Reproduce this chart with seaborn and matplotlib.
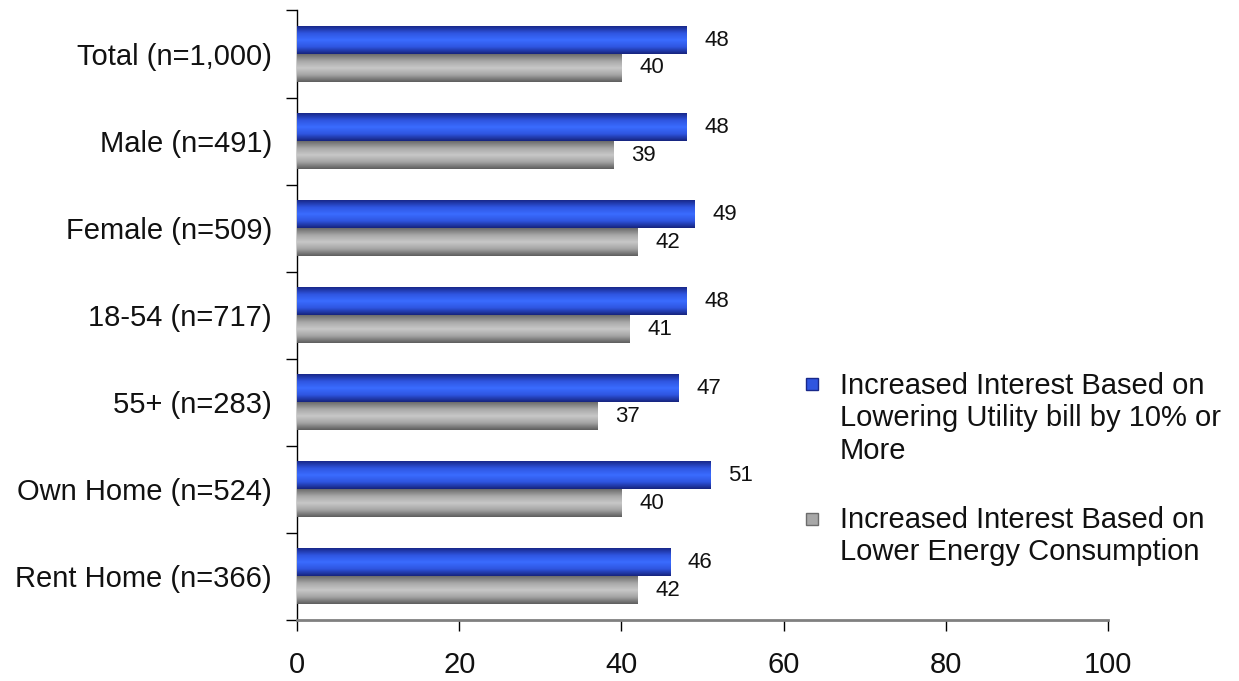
import numpy as np
import pandas as pd
import matplotlib
matplotlib.use("Agg")
import matplotlib.pyplot as plt
import seaborn as sns
from matplotlib.colors import LinearSegmentedColormap
from matplotlib.patches import Patch, Rectangle
from matplotlib.legend_handler import HandlerPatch

groups = ["Total (n=1,000)", "Male (n=491)", "Female (n=509)", "18-54 (n=717)",
          "55+ (n=283)", "Own Home (n=524)", "Rent Home (n=366)"]
utility_bill = [48, 48, 49, 48, 47, 51, 46]
energy_use = [40, 39, 42, 41, 37, 40, 42]
series = ["Increased Interest Based on\nLowering Utility bill by 10% or\nMore",
          "Increased Interest Based on\nLower Energy Consumption"]

df = pd.DataFrame({
    "group": groups * 2,
    "value": utility_bill + energy_use,
    "series": [series[0]] * len(groups) + [series[1]] * len(groups),
})

sns.set_style("white")
plt.rcParams["font.family"] = ["Liberation Sans", "DejaVu Sans"]

fig = plt.figure(figsize=(12.39, 6.81), dpi=100)
ax = fig.add_axes([0.2397, 0.0896, 0.6546, 0.8950])

blue_c = "#2f5cf0"
gray_c = "#a8a8a8"
sns.barplot(data=df, x="value", y="group", hue="series", orient="h",
            palette=[blue_c, gray_c], width=0.64, ax=ax, legend=False)

cmaps = [
    LinearSegmentedColormap.from_list("b", ["#18288a", "#2f55e0", "#3a6cff", "#2f55e0", "#16247e"]),
    LinearSegmentedColormap.from_list("g", ["#6c6c6c", "#a8a8a8", "#c8c8c8", "#a4a4a4", "#5e5e5e"]),
]
grad = np.linspace(0, 1, 64).reshape(-1, 1)
for cont, cm in zip(ax.containers, cmaps):
    for bar in cont:
        x0, y0 = bar.get_x(), bar.get_y()
        w, h = bar.get_width(), bar.get_height()
        ax.imshow(grad, cmap=cm, extent=[x0, x0 + w, y0 + h, y0],
                  aspect="auto", zorder=3, interpolation="bilinear")
        ax.text(x0 + w + 2.2, y0 + h / 2, f"{w:.0f}", va="center", ha="left",
                fontsize=16, color="#111111")

ax.set_xlim(0, 100)
ax.set_ylim(len(groups) - 0.5, -0.5)
ax.set_xticks(range(0, 101, 20))
ax.set_yticks(range(len(groups)))
ax.set_yticklabels(groups)
ax.set_yticks(np.arange(-0.5, len(groups), 1), minor=True)
ax.set_xlabel("")
ax.set_ylabel("")

sns.despine(ax=ax, top=True, right=True)
ax.spines["left"].set_color("black")
ax.spines["left"].set_linewidth(1)
ax.spines["bottom"].set_color("#808080")
ax.spines["bottom"].set_linewidth(2)

ax.tick_params(axis="y", which="major", length=0, pad=18, labelsize=21, labelcolor="#111111")
ax.tick_params(axis="y", which="minor", length=8, width=1, color="black", left=True)
ax.tick_params(axis="x", length=8, width=1, color="black", pad=14, labelsize=21,
               labelcolor="#111111", bottom=True)

# legend squares sit next to the first line of each label
leg_fs = 21
line_h = leg_fs * 1.2


def square_at_top(n_lines):
    def make(legend, orig_handle, xdescent, ydescent, width, height, fontsize):
        s = 0.4 * fontsize
        yc = -ydescent + height / 2 + (n_lines - 1) * line_h / 2
        return Rectangle((-xdescent, yc - s / 2), s, s)
    return make


handles = [Patch(facecolor="#2f55e0", edgecolor="#18288a"),
           Patch(facecolor="#a8a8a8", edgecolor="#6c6c6c")]
hmap = {handles[0]: HandlerPatch(patch_func=square_at_top(3)),
        handles[1]: HandlerPatch(patch_func=square_at_top(2))}
fig.legend(handles, series, handler_map=hmap, loc="upper left",
           bbox_to_anchor=(0.6415, 0.471), frameon=False, fontsize=leg_fs,
           handlelength=0.4, handleheight=0.4, handletextpad=0.75,
           labelspacing=1.4, borderaxespad=0, labelcolor="#111111")

fig.savefig("out.png", dpi=100)
